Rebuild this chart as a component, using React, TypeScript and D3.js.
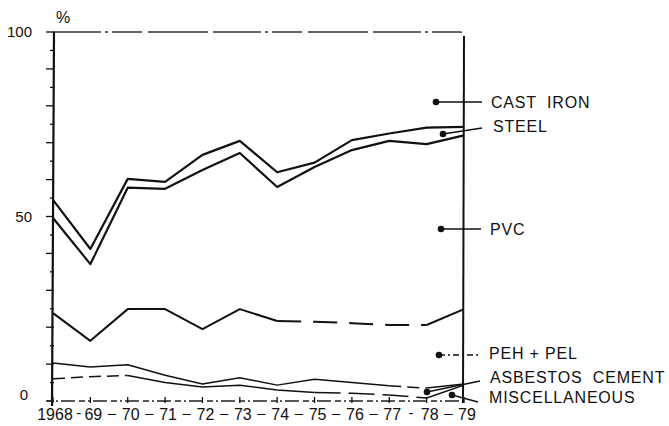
import React from "react";
import * as d3 from "d3";

// Yearly material shares, drawn as cumulative boundaries (percent of total)
const years = [1968, 1969, 1970, 1971, 1972, 1973, 1974, 1975, 1976, 1977, 1978, 1979];
const yearLabels = ["1968", "69", "70", "71", "72", "73", "74", "75", "76", "77", "78", "79"];
const yTickLabels = [0, 50, 100];

// cast iron / steel boundary
const castIronLower = [54.5, 41.2, 60.2, 59.4, 66.7, 70.5, 62.0, 64.6, 70.7, 72.5, 74.1, 74.3];
// steel / PVC boundary
const steelLower = [49.6, 37.1, 57.8, 57.5, 62.6, 67.2, 58.0, 63.4, 68.0, 70.5, 69.6, 72.0];
// PVC / PEH + PEL boundary
const pvcLower = [23.8, 16.3, 24.9, 24.9, 19.5, 24.9, 21.7, 21.5, 21.1, 20.6, 20.6, 24.9];
// PEH + PEL / asbestos cement boundary
const pehLower = [10.3, 9.2, 9.8, 7.0, 4.6, 6.3, 4.3, 5.9, 5.0, 4.1, 3.5, 4.6];
// asbestos cement / miscellaneous boundary
const asbestosLower = [6.0, 6.6, 6.9, 5.0, 3.8, 4.3, 3.0, 2.3, 2.1, 1.6, 0.8, 4.3];

const seriesLabels = ["CAST  IRON", "STEEL", "PVC", "PEH + PEL", "ASBESTOS  CEMENT", "MISCELLANEOUS"];

const W = 669;
const H = 426;
const FONT = "'Liberation Sans', Arial, sans-serif";

const x = d3.scaleLinear().domain([1968, 1979]).range([53, 464]);
const y = d3.scaleLinear().domain([0, 100]).range([401, 32]);

type Seg = { from: number; to: number; dash?: string };

function Boundary({ values, segs, width }: { values: number[]; segs: Seg[]; width: number }) {
  const gen = d3
    .line<number>()
    .x((i) => x(years[i]))
    .y((i) => y(values[i]));
  return (
    <g>
      {segs.map((s, k) => (
        <path
          key={k}
          d={gen(d3.range(s.from, s.to + 1)) || ""}
          fill="none"
          stroke="#111"
          strokeWidth={width}
          strokeDasharray={s.dash}
          strokeLinejoin="round"
        />
      ))}
    </g>
  );
}

export default function App() {
  const minorTicks = d3.range(0, 101, 5);
  const x0 = x(1968);
  const x1 = x(1979);

  // leader lines from the bands to the labels
  const leaders = [
    { dot: [436, 102], end: [482, 102], text: [491, 108], dash: "none" },
    { dot: [443, 134], end: [482, 128], text: [493, 132], dash: "none" },
    { dot: [441, 229], end: [481, 229], text: [490, 235], dash: "none" },
    { dot: [439, 355], end: [478, 355], text: [489, 359], dash: "6,3,2,3" },
    { dot: [427, 392], end: [480, 381], text: [490, 383], dash: "none" },
    { dot: [452, 395], end: [478, 402], text: [489, 403], dash: "none" },
  ];

  return (
    <div style={{ position: "absolute", left: 0, top: 0 }}>
      <svg width={W} height={H} style={{ display: "block", background: "#fff" }}>
        <rect width={W} height={H} fill="#fff" />

        {/* 100 % line and right frame */}
        <path
          d={`M${x0},${y(100)} H${x1 - 4} Q${x1},${y(100)} ${x1},${y(100) + 4}`}
          fill="none"
          stroke="#333"
          strokeWidth={1.3}
          strokeDasharray="48,4,3,4,30,6,60,5"
        />
        <line x1={x1} y1={y(100) + 4} x2={x1 - 1} y2={y(0) + 2} stroke="#111" strokeWidth={2} />

        {/* left axis */}
        <line x1={x0 + 1} y1={y(100)} x2={x0 - 1} y2={y(0) + 5} stroke="#111" strokeWidth={2.2} />
        {minorTicks.map((t) => (
          <line
            key={t}
            x1={x0 - (t % 10 === 0 ? 7 : 3)}
            x2={x0 + 1}
            y1={y(t)}
            y2={y(t)}
            stroke="#111"
            strokeWidth={1.3}
          />
        ))}
        {yTickLabels.map((t) => (
          <text
            key={t}
            x={t === 0 ? 28 : 32}
            y={t === 0 ? y(t) - 1 : y(t) + 5}
            textAnchor="end"
            fontFamily={FONT}
            fontSize={15}
            fill="#111"
          >
            {t}
          </text>
        ))}
        <text x={63} y={23} textAnchor="middle" fontFamily={FONT} fontSize={16} fill="#111">
          %
        </text>

        {/* baseline with year ticks */}
        <line
          x1={x0 - 6}
          x2={x1}
          y1={y(0)}
          y2={y(0)}
          stroke="#222"
          strokeWidth={1.3}
          strokeDasharray="6,3,2,3,14,4"
        />
        {years.map((yr) => (
          <line key={yr} x1={x(yr)} x2={x(yr)} y1={y(0) - 4} y2={y(0) + 2} stroke="#111" strokeWidth={1.3} />
        ))}

        {/* category labels along the bottom */}
        {years.map((yr, i) => (
          <text
            key={yr}
            x={x(yr) + (i === 0 ? 2 : 3)}
            y={420}
            textAnchor="middle"
            fontFamily={FONT}
            fontSize={16}
            fill="#111"
          >
            {yearLabels[i]}
          </text>
        ))}
        {years.slice(1).map((yr, i) => (
          <text
            key={yr}
            x={i === 0 ? (x(years[i]) + x(yr)) / 2 + 7 : (x(years[i]) + x(yr)) / 2 + 3}
            y={418}
            textAnchor="middle"
            fontFamily={FONT}
            fontSize={15}
            fill="#111"
          >
            {i === 0 || i === 9 ? "-" : "–"}
          </text>
        ))}

        {/* band boundaries */}
        <Boundary values={castIronLower} segs={[{ from: 0, to: 11 }]} width={2.2} />
        <Boundary values={steelLower} segs={[{ from: 0, to: 11 }]} width={2.2} />
        <Boundary
          values={pvcLower}
          segs={[
            { from: 0, to: 6 },
            { from: 6, to: 10, dash: "24,12" },
            { from: 10, to: 11 },
          ]}
          width={2}
        />
        <Boundary
          values={pehLower}
          segs={[
            { from: 0, to: 9 },
            { from: 9, to: 10, dash: "12,6" },
            { from: 10, to: 11 },
          ]}
          width={1.5}
        />
        <Boundary
          values={asbestosLower}
          segs={[
            { from: 0, to: 2, dash: "12,6" },
            { from: 2, to: 7 },
            { from: 7, to: 10, dash: "26,8" },
            { from: 10, to: 11 },
          ]}
          width={1.5}
        />

        {/* labels */}
        {leaders.map((l, i) => (
          <g key={i}>
            <circle cx={l.dot[0]} cy={l.dot[1]} r={3.3} fill="#111" />
            <line
              x1={l.dot[0]}
              y1={l.dot[1]}
              x2={l.end[0]}
              y2={l.end[1]}
              stroke="#111"
              strokeWidth={1.3}
              strokeDasharray={l.dash === "none" ? undefined : l.dash}
            />
            <text
              x={l.text[0]}
              y={l.text[1]}
              fontFamily={FONT}
              fontSize={16}
              letterSpacing={0.8}
              fill="#111"
              style={{ whiteSpace: "pre" }}
            >
              {seriesLabels[i]}
            </text>
          </g>
        ))}
      </svg>
    </div>
  );
}
